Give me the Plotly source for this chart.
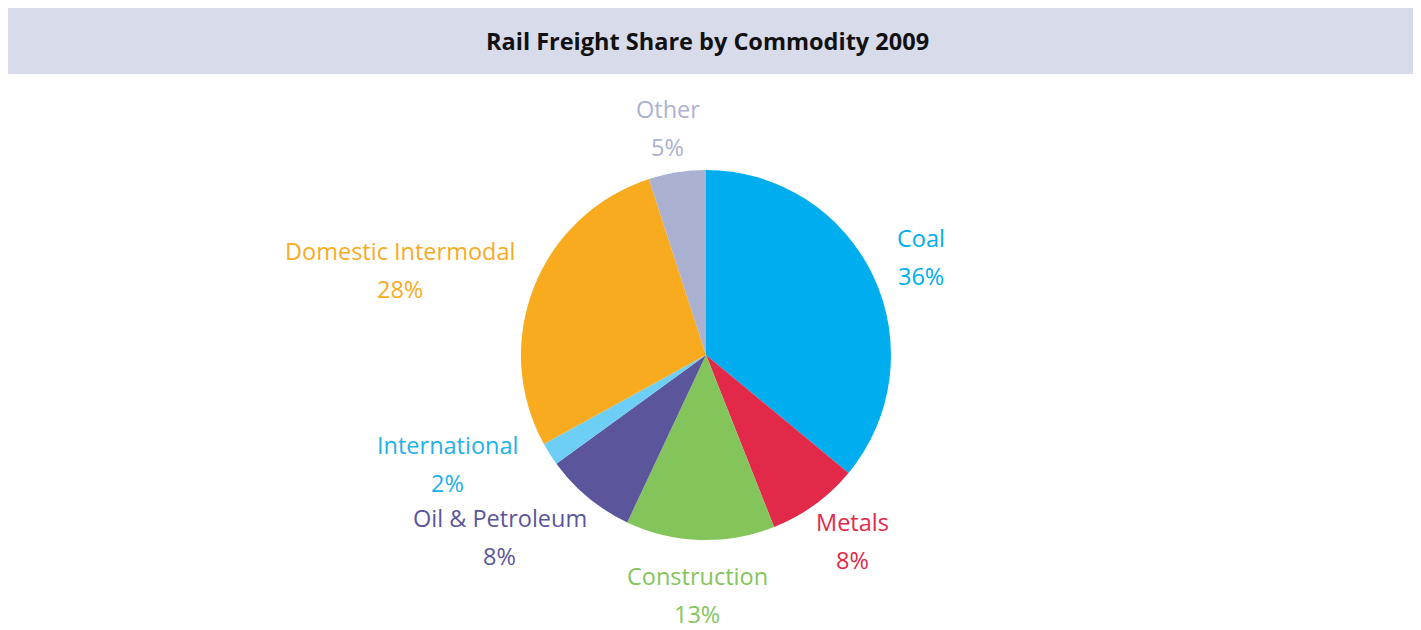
"""Rail freight share by commodity, 2009 - pie with outside two-line labels."""

import math

import plotly.graph_objects as go

# data
commodities = [
    "Coal",
    "Metals",
    "Construction",
    "Oil & Petroleum",
    "International",
    "Domestic Intermodal",
    "Other",
]
shares = [36, 8, 13, 8, 2, 28, 5]

# styles
slice_colors = ["#00aeef", "#e2294a", "#84c55b", "#5b569b", "#6dcff6", "#f9ab1f", "#abb2d1"]
label_colors = ["#00aeef", "#e2294a", "#84c55b", "#5b569b", "#1fb1ea", "#f9ab1f", "#abb2d1"]

# page has an 8px body margin, so the figure paper starts at (8, 8)
W, H = 1405, 622
CX, CY, R = 698, 347, 185  # pie centre / radius in px (paper coords)
RX, RY = 213, 230  # label offset from the centre
FONT = "Open Sans"
LABEL_SIZE = 23.5
LINE_GAP = 38  # distance between the two label lines
MIN_SEP = 73  # minimum vertical distance between stacked labels


def px(x):
    return x / W


def py(y):
    return 1 - y / H


fig = go.Figure()

fig.add_trace(
    go.Pie(
        labels=commodities,
        values=shares,
        sort=False,
        direction="clockwise",
        rotation=0,
        marker=dict(colors=slice_colors, line=dict(width=0)),
        textinfo="none",
        hoverinfo="label+percent",
        showlegend=False,
        domain=dict(x=[px(CX - R), px(CX + R)], y=[py(CY + R), py(CY - R)]),
    )
)

# label centres, placed outside the pie along each slice's mid angle
total = sum(shares)
cum = 0
centres = []
for name, val in zip(commodities, shares):
    mid = (cum + val / 2) / total * 2 * math.pi
    cum += val
    s, c = math.sin(mid), math.cos(mid)
    hw = 6.1 * max(len(name), 3)
    centres.append([CX + (RX + hw) * s, CY - RY * c, s])

# spread labels apart on the left side when they collide vertically
left = sorted([p for p in centres if p[2] < 0], key=lambda p: -p[1])
for lower, upper in zip(left, left[1:]):
    gap = lower[1] - upper[1]
    if gap < MIN_SEP:
        push = (MIN_SEP - gap) / 2
        lower[1] += push
        upper[1] -= push
        upper[0] -= 12

annotations = []
for name, val, col, (x, y, _) in zip(commodities, shares, label_colors, centres):
    for text, dy in ((name, -LINE_GAP / 2), (f"{round(val / total * 100)}%", LINE_GAP / 2)):
        annotations.append(
            dict(
                x=px(x),
                y=py(y + dy),
                xref="paper",
                yref="paper",
                text=text,
                showarrow=False,
                xanchor="center",
                yanchor="middle",
                font=dict(family=FONT, size=LABEL_SIZE, color=col),
            )
        )

annotations.append(
    dict(
        x=px(699),
        y=py(33),
        xref="paper",
        yref="paper",
        text="<b>Rail Freight Share by Commodity 2009</b>",
        showarrow=False,
        xanchor="center",
        yanchor="middle",
        font=dict(family=FONT, size=23.5, color="#111111"),
    )
)

fig.update_layout(
    width=W,
    height=H,
    margin=dict(l=0, r=0, t=0, b=0),
    paper_bgcolor="white",
    plot_bgcolor="white",
    annotations=annotations,
    shapes=[
        dict(
            type="rect",
            xref="paper",
            yref="paper",
            x0=0,
            x1=1,
            y0=py(66),
            y1=1,
            fillcolor="#d8dbe9",
            line=dict(width=0),
            layer="below",
        )
    ],
)

fig.write_html("out.html")
